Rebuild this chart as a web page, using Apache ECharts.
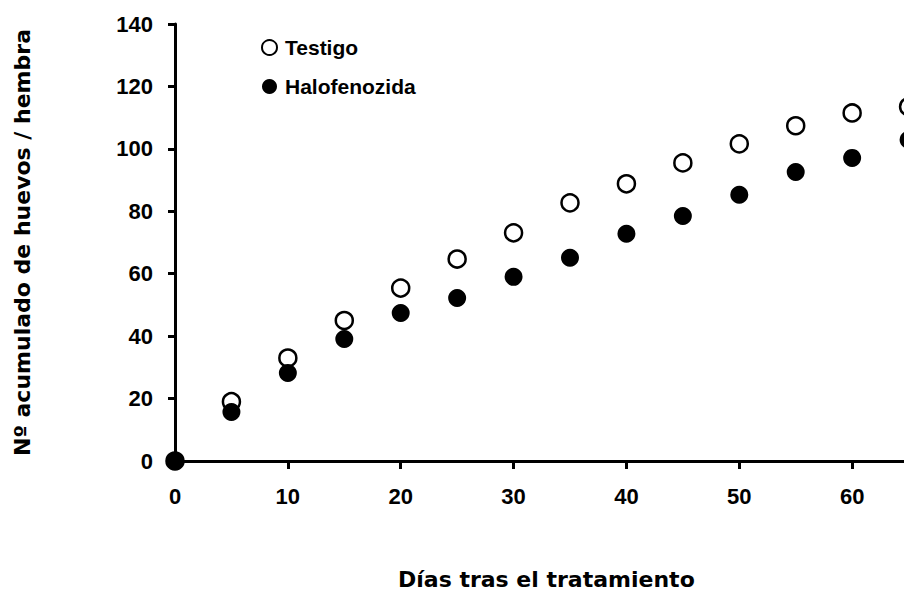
<!DOCTYPE html>
<html>
<head>
<meta charset="utf-8">
<style>
  html, body { margin: 0; padding: 0; background: #fff; }
  #chart { width: 904px; height: 592px; }
</style>
<script src="https://cdn.jsdelivr.net/npm/echarts@6/dist/echarts.min.js"></script>
</head>
<body>
<div id="chart"></div>
<script>
// Days after treatment (x) and cumulative eggs per female for each group
const dias = [0, 5, 10, 15, 20, 25, 30, 35, 40, 45, 50, 55, 60, 65];
const testigo = [0, 19, 33, 45, 55.4, 64.7, 73.1, 82.7, 88.8, 95.5, 101.6, 107.4, 111.5, 113.5];
const halofenozida = [0, 15.7, 28.2, 39.1, 47.4, 52.2, 59.0, 65.1, 72.8, 78.5, 85.3, 92.6, 97.1, 102.9];
const yTicks = [0, 20, 40, 60, 80, 100, 120, 140];
const xTicks = [0, 10, 20, 30, 40, 50, 60, 70];

const pairs = (ys) => dias.map((d, i) => [d, ys[i]]);
const font = 'Liberation Sans, Arial, sans-serif';
const titleFont = 'DejaVu Sans, Liberation Sans, sans-serif';

const chart = echarts.init(document.getElementById('chart'), null, { renderer: 'svg' });
chart.setOption({
  animation: false,
  backgroundColor: '#fff',
  // the plot runs past the right edge of the page, so the last column is cut off
  grid: { left: 175, top: 24, width: 790, height: 437, containLabel: false, outerBoundsMode: 'none' },
  legend: {
    orient: 'vertical',
    left: 256,
    top: 32,
    itemGap: 18,
    itemWidth: 15,
    itemHeight: 15,
    textStyle: { fontFamily: font, fontSize: 21, fontWeight: 'bold', color: '#000', padding: [0, 0, 0, 3] },
    data: ['Testigo', 'Halofenozida']
  },
  xAxis: {
    type: 'value',
    min: xTicks[0],
    max: xTicks[xTicks.length - 1],
    interval: 10,
    axisLine: { show: true, onZero: false, lineStyle: { color: '#000', width: 3 } },
    axisTick: { show: true, inside: false, length: 8, lineStyle: { color: '#000', width: 3 } },
    axisLabel: { color: '#000', fontFamily: font, fontWeight: 'bold', fontSize: 22, margin: 24, showMaxLabel: false },
    splitLine: { show: false }
  },
  yAxis: {
    type: 'value',
    min: yTicks[0],
    max: yTicks[yTicks.length - 1],
    interval: 20,
    name: 'Nº acumulado de huevos / hembra',
    nameLocation: 'middle',
    nameRotate: 90,
    nameGap: 142,
    nameTextStyle: { color: '#000', fontFamily: titleFont, fontWeight: 'bold', fontSize: 22 },
    axisLine: { show: true, onZero: false, lineStyle: { color: '#000', width: 3 } },
    axisTick: { show: true, inside: false, length: 7, lineStyle: { color: '#000', width: 3 } },
    axisLabel: { color: '#000', fontFamily: font, fontWeight: 'bold', fontSize: 22, margin: 22 },
    splitLine: { show: false }
  },
  graphic: [{
    type: 'text',
    left: 398,
    top: 568,
    style: {
      text: 'Días tras el tratamiento',
      font: 'bold 22px ' + titleFont,
      fill: '#000'
    }
  }],
  series: [
    {
      name: 'Testigo',
      type: 'scatter',
      symbol: 'circle',
      symbolSize: 17,
      clip: false,
      itemStyle: { color: '#fff', borderColor: '#000', borderWidth: 2.5, opacity: 1 },
      data: pairs(testigo),
      z: 3
    },
    {
      name: 'Halofenozida',
      type: 'scatter',
      symbol: 'circle',
      symbolSize: 18,
      clip: false,
      itemStyle: { color: '#000', borderColor: '#000', borderWidth: 0, opacity: 1 },
      data: pairs(halofenozida),
      z: 4
    }
  ]
});
</script>
</body>
</html>
